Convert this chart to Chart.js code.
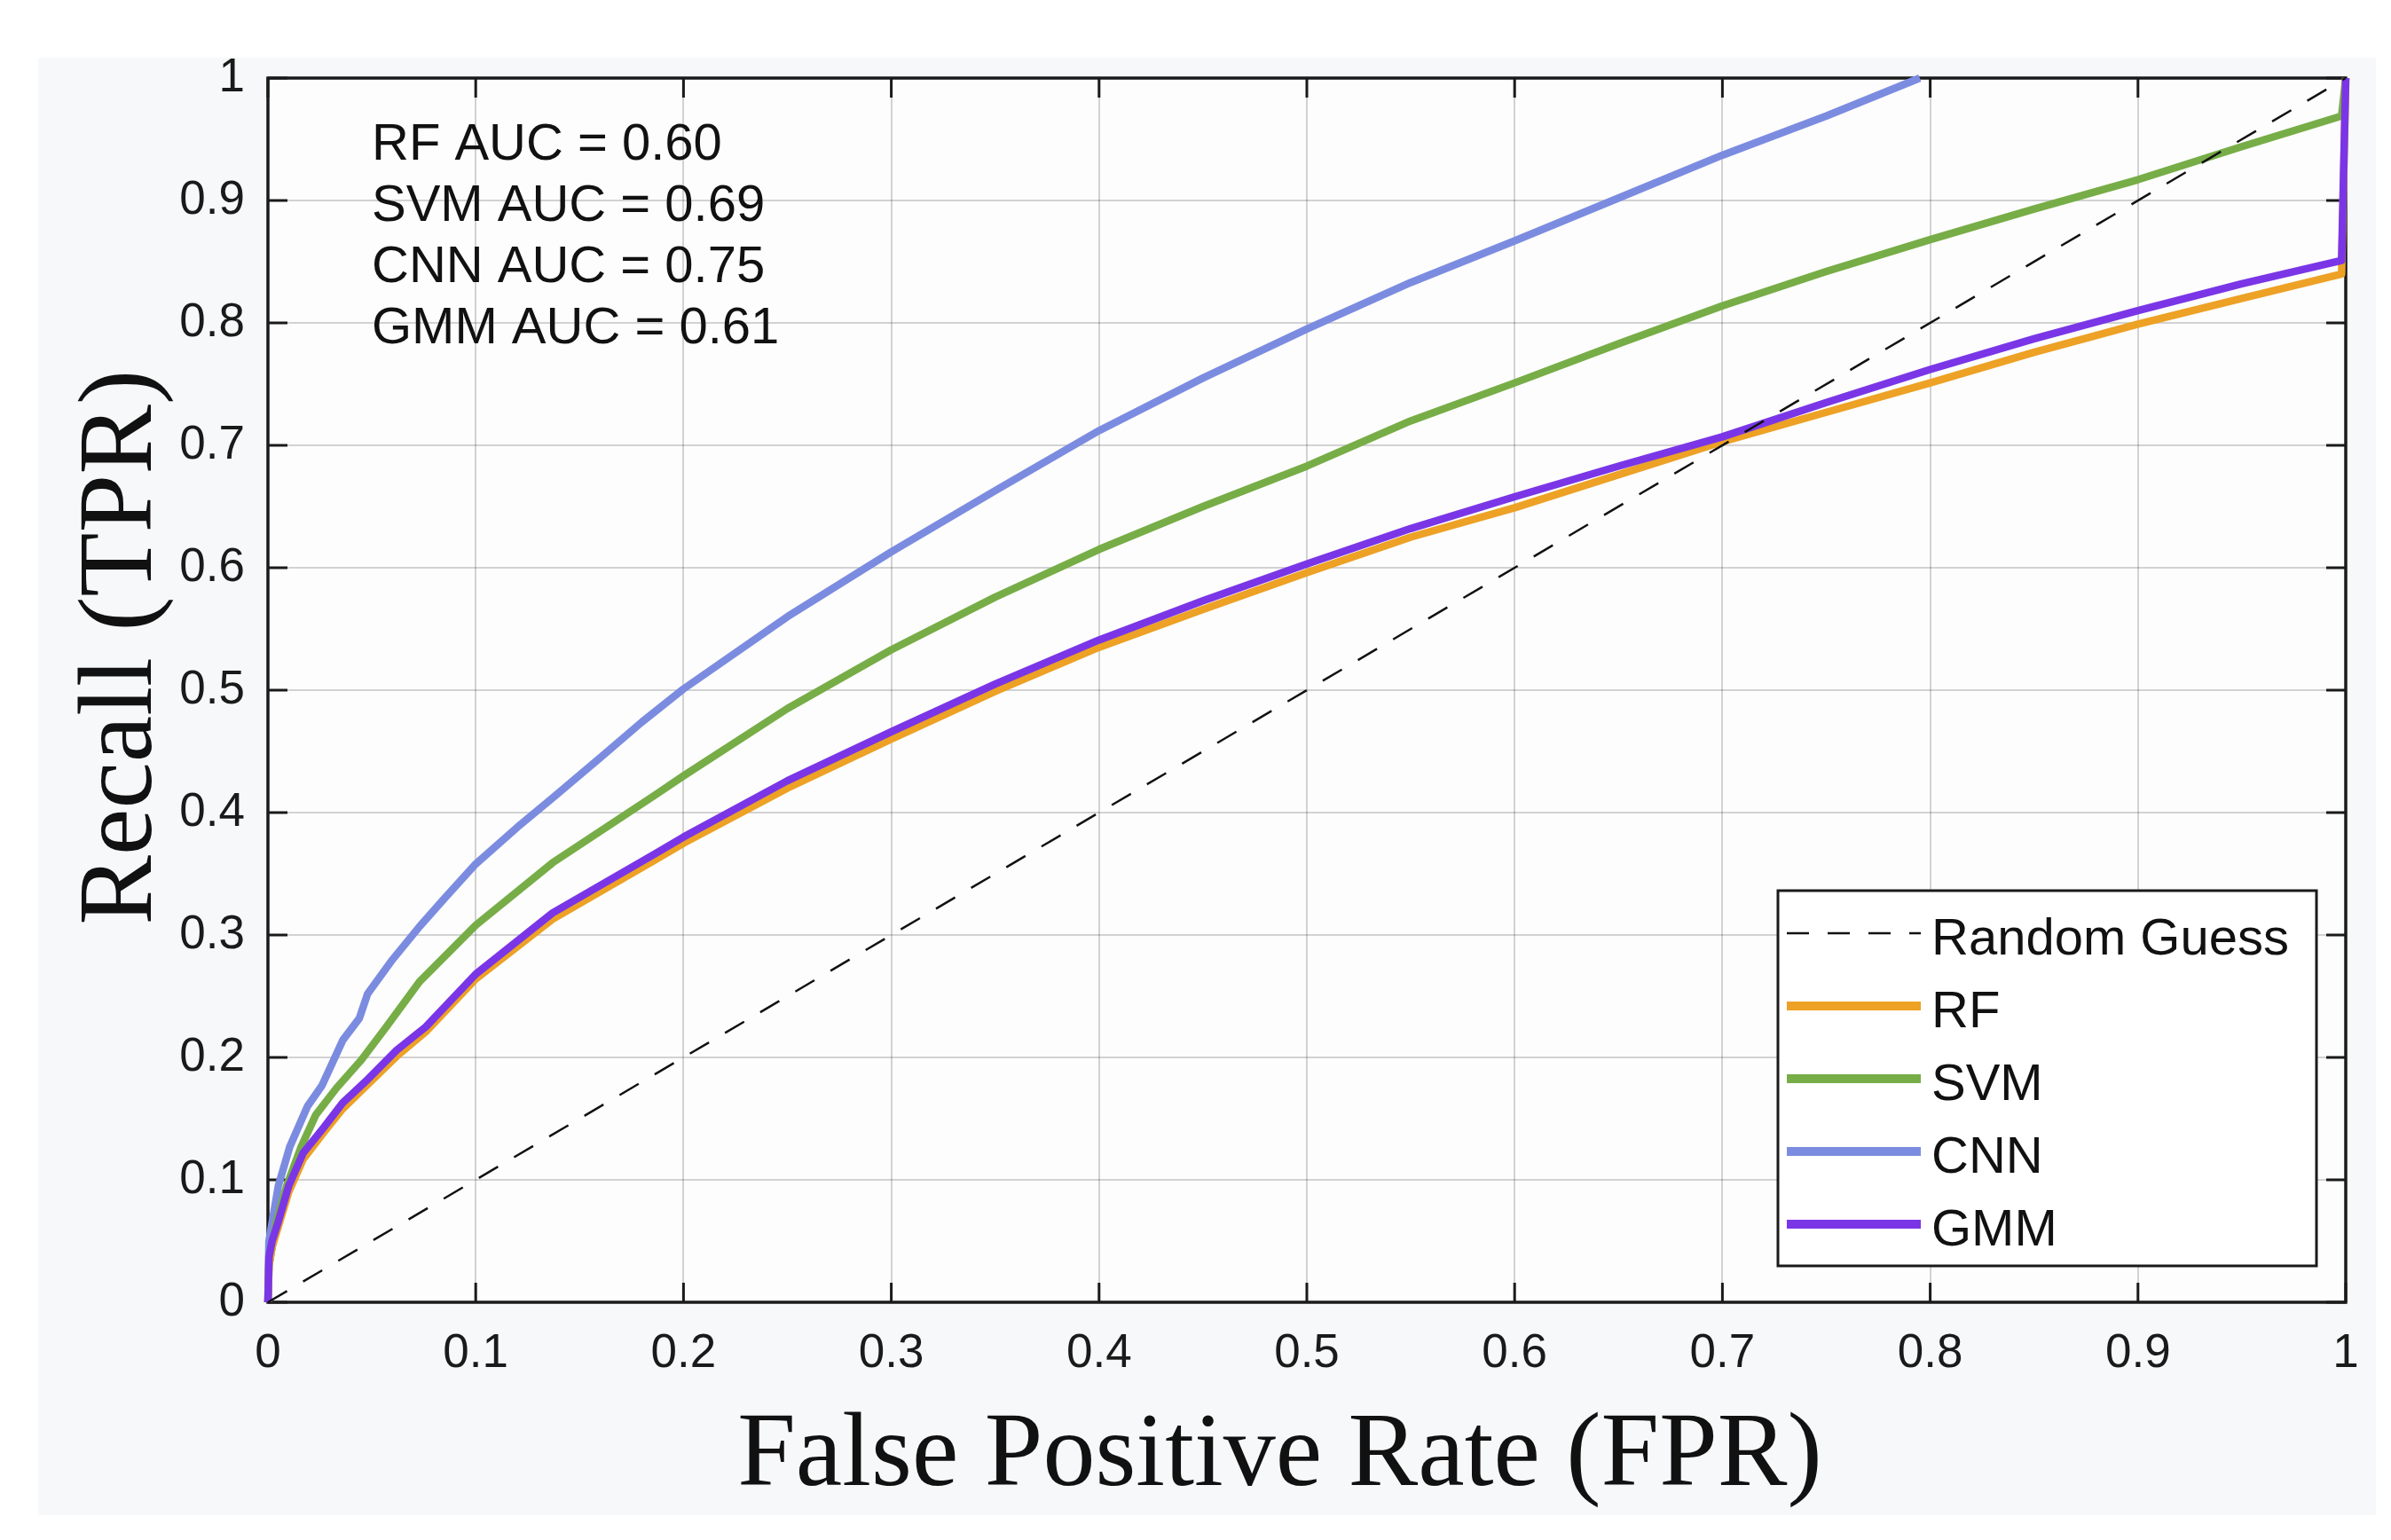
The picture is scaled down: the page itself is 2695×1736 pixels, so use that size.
<!DOCTYPE html>
<html>
<head>
<meta charset="utf-8">
<title>ROC curves</title>
<script src="https://cdn.jsdelivr.net/npm/chart.js@4"></script>
<style>
  html, body { margin: 0; padding: 0; background: #fff; }
  #wrap { width: 2695px; height: 1736px; }
</style>
</head>
<body>
<div id="wrap"><canvas id="rocChart" width="2695" height="1736"></canvas></div>
<script>
// ROC data (FPR on x, TPR on y)
const guessFpr = [0, 1];
const guessTpr = [0, 1];

const rfFpr = [0, 0.0005, 0.002, 0.005, 0.01, 0.017, 0.027, 0.036, 0.048, 0.062, 0.076, 0.1, 0.137, 0.186, 0.2, 0.25, 0.3, 0.35, 0.4, 0.45, 0.5, 0.55, 0.6, 0.65, 0.7, 0.75, 0.8, 0.85, 0.9, 0.95, 0.998, 1];
const rfTpr = [0, 0.03, 0.045, 0.062, 0.09, 0.117, 0.139, 0.158, 0.178, 0.201, 0.221, 0.264, 0.313, 0.361, 0.375, 0.42, 0.46, 0.499, 0.535, 0.566, 0.596, 0.625, 0.649, 0.676, 0.703, 0.727, 0.751, 0.776, 0.799, 0.82, 0.84, 1.0];

const svmFpr = [0, 0.0005, 0.004, 0.009, 0.016, 0.023, 0.033, 0.045, 0.057, 0.073, 0.1, 0.137, 0.186, 0.2, 0.25, 0.3, 0.35, 0.4, 0.45, 0.5, 0.55, 0.6, 0.65, 0.7, 0.75, 0.8, 0.85, 0.9, 0.95, 0.998, 1];
const svmTpr = [0, 0.03, 0.065, 0.095, 0.127, 0.153, 0.175, 0.198, 0.225, 0.262, 0.308, 0.359, 0.414, 0.43, 0.485, 0.533, 0.576, 0.615, 0.65, 0.683, 0.72, 0.751, 0.783, 0.814, 0.842, 0.868, 0.893, 0.917, 0.944, 0.969, 1.0];

const cnnFpr = [0, 0.0005, 0.005, 0.0105, 0.019, 0.026, 0.036, 0.044, 0.048, 0.06, 0.073, 0.085, 0.1, 0.12, 0.137, 0.16, 0.18, 0.2, 0.25, 0.3, 0.35, 0.4, 0.45, 0.5, 0.55, 0.6, 0.65, 0.7, 0.75, 0.795];
const cnnTpr = [0, 0.05, 0.095, 0.127, 0.16, 0.177, 0.214, 0.232, 0.252, 0.28, 0.307, 0.33, 0.358, 0.388, 0.412, 0.445, 0.474, 0.501, 0.56, 0.613, 0.663, 0.712, 0.755, 0.795, 0.833, 0.867, 0.902, 0.937, 0.969, 1.0];

const gmmFpr = [0, 0.0005, 0.002, 0.005, 0.01, 0.017, 0.027, 0.036, 0.048, 0.062, 0.076, 0.1, 0.137, 0.186, 0.2, 0.25, 0.3, 0.35, 0.4, 0.45, 0.5, 0.55, 0.6, 0.65, 0.7, 0.75, 0.8, 0.85, 0.9, 0.95, 0.998, 1];
const gmmTpr = [0, 0.037, 0.05, 0.066, 0.095, 0.122, 0.143, 0.163, 0.182, 0.206, 0.225, 0.268, 0.318, 0.366, 0.38, 0.426, 0.466, 0.505, 0.541, 0.573, 0.603, 0.632, 0.658, 0.683, 0.707, 0.735, 0.762, 0.787, 0.81, 0.832, 0.851, 1.0];

const tickValues = [0, 0.1, 0.2, 0.3, 0.4, 0.5, 0.6, 0.7, 0.8, 0.9, 1];
const tickLabels = ['0', '0.1', '0.2', '0.3', '0.4', '0.5', '0.6', '0.7', '0.8', '0.9', '1'];

const aucLines = ['RF AUC = 0.60', 'SVM AUC = 0.69', 'CNN AUC = 0.75', 'GMM AUC = 0.61'];
const legendNames = ['Random Guess', 'RF', 'SVM', 'CNN', 'GMM'];
const xTitle = 'False Positive Rate (FPR)';
const yTitle = 'Recall (TPR)';

const colors = {
    guess: '#111111',
    rf: '#eda125',
    svm: '#77ad47',
    cnn: '#7b8ce0',
    gmm: '#7a36e6'
};

const sansFont = '"Liberation Sans", Arial, Helvetica, sans-serif';
const serifFont = '"Liberation Serif", "Times New Roman", serif';
const dash = [25, 21];
const curveWidth = 8.5;

function toPoints(xs, ys) {
    return xs.map((x, i) => ({ x: x, y: ys[i] }));
}

// light panel behind the whole figure
const backgroundPlugin = {
    id: 'background',
    beforeDraw(chart) {
        const c = chart.ctx;
        const a = chart.chartArea;
        c.save();
        c.fillStyle = '#ffffff';
        c.fillRect(0, 0, chart.width, chart.height);
        c.fillStyle = '#f7f8f9';
        c.fillRect(43, 65, 2635, 1643);
        c.fillStyle = '#fdfdfd';
        c.fillRect(a.left, a.top, a.right - a.left, a.bottom - a.top);
        c.restore();
    }
};

// MATLAB style box with inward ticks on all four sides
const boxPlugin = {
    id: 'axesBox',
    beforeDatasetsDraw(chart) {
        const c = chart.ctx;
        const a = chart.chartArea;
        const xs = chart.scales.x;
        const ys = chart.scales.y;
        const len = 22;
        c.save();
        c.strokeStyle = '#1a1a1a';
        c.lineWidth = 3;
        c.beginPath();
        tickValues.forEach(v => {
            const px = xs.getPixelForValue(v);
            c.moveTo(px, a.bottom); c.lineTo(px, a.bottom - len);
            c.moveTo(px, a.top); c.lineTo(px, a.top + len);
            const py = ys.getPixelForValue(v);
            c.moveTo(a.left, py); c.lineTo(a.left + len, py);
            c.moveTo(a.right, py); c.lineTo(a.right - len, py);
        });
        c.stroke();
        c.lineWidth = 3.5;
        c.strokeRect(a.left, a.top, a.right - a.left, a.bottom - a.top);
        c.restore();
    }
};

// axis titles, AUC text block and the legend box inside the plot
const overlayPlugin = {
    id: 'overlay',
    afterDraw(chart) {
        const c = chart.ctx;
        const a = chart.chartArea;
        c.save();

        c.fillStyle = '#111';
        c.font = '118px ' + serifFont;
        c.textAlign = 'center';
        c.textBaseline = 'alphabetic';
        c.fillText(xTitle, a.left + (a.right - a.left) * 0.487, a.bottom + 206);
        c.save();
        c.translate(a.left - 132, a.top + (a.bottom - a.top) * 0.465);
        c.rotate(-Math.PI / 2);
        c.fillText(yTitle, 0, 0);
        c.restore();

        c.font = '58px ' + sansFont;
        c.textAlign = 'left';
        aucLines.forEach((t, i) => {
            c.fillText(t, a.left + 117, a.top + 92 + i * 69);
        });

        const bw = 607, bh = 423;
        const bx = a.right - 33 - bw;
        const by = a.bottom - 41 - bh;
        c.fillStyle = '#ffffff';
        c.fillRect(bx, by, bw, bh);
        c.strokeStyle = '#1a1a1a';
        c.lineWidth = 3;
        c.strokeRect(bx, by, bw, bh);

        const swatch = [
            { color: colors.guess, width: 2.5, dash: dash },
            { color: colors.rf, width: 10, dash: [] },
            { color: colors.svm, width: 10, dash: [] },
            { color: colors.cnn, width: 10, dash: [] },
            { color: colors.gmm, width: 10, dash: [] }
        ];
        legendNames.forEach((name, i) => {
            const rowY = by + 48 + i * 82;
            const s = swatch[i];
            c.strokeStyle = s.color;
            c.lineWidth = s.width;
            c.setLineDash(s.dash);
            c.beginPath();
            c.moveTo(bx + 10, rowY);
            c.lineTo(bx + 161, rowY);
            c.stroke();
            c.setLineDash([]);
            c.fillStyle = '#111';
            c.fillText(name, bx + 173, rowY + 24);
        });
        c.restore();
    }
};

const ctx = document.getElementById('rocChart').getContext('2d');
const rocChart = new Chart(ctx, {
    type: 'line',
    data: {
        datasets: [
            {
                label: legendNames[0],
                data: toPoints(guessFpr, guessTpr),
                borderColor: colors.guess,
                borderWidth: 2.5,
                borderDash: dash,
                order: 0
            },
            {
                label: legendNames[4],
                data: toPoints(gmmFpr, gmmTpr),
                borderColor: colors.gmm,
                borderWidth: curveWidth,
                order: 1
            },
            {
                label: legendNames[1],
                data: toPoints(rfFpr, rfTpr),
                borderColor: colors.rf,
                borderWidth: curveWidth,
                order: 2
            },
            {
                label: legendNames[2],
                data: toPoints(svmFpr, svmTpr),
                borderColor: colors.svm,
                borderWidth: curveWidth,
                order: 3
            },
            {
                label: legendNames[3],
                data: toPoints(cnnFpr, cnnTpr),
                borderColor: colors.cnn,
                borderWidth: curveWidth,
                order: 4
            }
        ]
    },
    options: {
        responsive: false,
        animation: false,
        devicePixelRatio: 1,
        parsing: false,
        elements: {
            point: { radius: 0 },
            line: { tension: 0, fill: false, borderJoinStyle: 'round' }
        },
        datasets: { line: { clip: false } },
        layout: { padding: { top: 88, right: 51, left: 0, bottom: 0 } },
        plugins: {
            legend: { display: false },
            tooltip: { enabled: false }
        },
        scales: {
            x: {
                type: 'linear',
                min: 0,
                max: 1,
                afterBuildTicks: s => { s.ticks = tickValues.map(v => ({ value: v })); },
                afterFit: s => { s.height = 268; },
                grid: { color: 'rgba(0,0,0,0.17)', lineWidth: 2, drawTicks: false },
                border: { display: false },
                ticks: {
                    padding: 27,
                    color: '#1a1a1a',
                    font: { family: sansFont, size: 53 },
                    maxRotation: 0,
                    autoSkip: false,
                    callback: (v, i) => tickLabels[i]
                }
            },
            y: {
                type: 'linear',
                min: 0,
                max: 1,
                afterBuildTicks: s => { s.ticks = tickValues.map(v => ({ value: v })); },
                afterFit: s => { s.width = 302; },
                grid: { color: 'rgba(0,0,0,0.17)', lineWidth: 2, drawTicks: false },
                border: { display: false },
                ticks: {
                    padding: 26,
                    color: '#1a1a1a',
                    font: { family: sansFont, size: 53 },
                    autoSkip: false,
                    callback: (v, i) => tickLabels[i]
                }
            }
        }
    },
    plugins: [backgroundPlugin, boxPlugin, overlayPlugin]
});
</script>
</body>
</html>
